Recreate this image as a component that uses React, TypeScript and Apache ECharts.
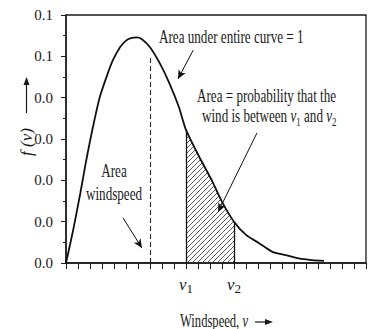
import React, { useEffect, useRef } from "react";
import * as echarts from "echarts";

// ---- data ----
const windspeed = [0, 0.6, 1.2, 1.6, 2.0, 2.4, 2.8, 3.4, 3.9, 4.5, 5.0, 5.4, 5.9, 6.3, 7.0, 7.8, 8.6, 9.4, 10, 11.1, 12.2, 13, 14, 15, 16.1, 17.2, 18.3, 19.4, 20.5, 21.5];
const density = [0, 0.008, 0.017, 0.0235, 0.0295, 0.035, 0.04, 0.0452, 0.049, 0.0522, 0.0538, 0.0544, 0.0546, 0.0542, 0.0522, 0.0484, 0.0436, 0.0378, 0.0322, 0.0257, 0.0197, 0.0148, 0.01, 0.0068, 0.0048, 0.0027, 0.0019, 0.0011, 0.0007, 0.0005];

const V1 = 10;
const V2 = 14;
const meanSpeed = 7;
const meanLineTop = 0.05;

const yTickValues = [0, 0.01, 0.02, 0.03, 0.04, 0.05, 0.06];
const yTickLabels = ["0.0", "0.0", "0.0", "0.0", "0.0", "0.1", "0.1"];
const xTickLabels: Record<number, string> = { 10: "{i|v}{s|1}", 14: "{i|v}{s|2}" };

// annotation arrows in data coordinates: [from, to]
const arrowWholeCurve = [[10.6, 0.0515], [9.33, 0.0445]];
const arrowBetween = [[15.92, 0.0315], [12.67, 0.0123]];
const arrowMean = [[4.75, 0.0109], [6.33, 0.0036]];

const FONT = "Liberation Serif";

export default function App() {
  const ref = useRef<HTMLDivElement>(null);
  useEffect(() => {
    const chart = echarts.init(ref.current!, null, { renderer: "svg" });

    const pts = windspeed.map((v, i) => [v, density[i]]);
    const hatchPts = pts.filter((p) => p[0] >= V1 && p[0] <= V2);
    const fAt = (v: number) => density[windspeed.indexOf(v)];

    const cv = document.createElement("canvas");
    cv.width = 5;
    cv.height = 5;
    const ctx = cv.getContext("2d")!;
    ctx.strokeStyle = "#333";
    ctx.lineWidth = 0.8;
    ctx.beginPath();
    ctx.moveTo(0, 5);
    ctx.lineTo(5, 0);
    ctx.moveTo(-1, 1);
    ctx.lineTo(1, -1);
    ctx.moveTo(4, 6);
    ctx.lineTo(6, 4);
    ctx.stroke();

    const arrowItem = (a: number[][]) => [
      { coord: a[0], symbol: "none" },
      { coord: a[1], symbol: "arrow", symbolSize: [6, 9] },
    ];

    const txt = (extra: any) => ({
      type: "text",
      scaleX: 0.69,
      ...extra,
      style: {
        fontFamily: FONT,
        fontSize: 19,
        fill: "#1a1a1a",
        verticalAlign: "middle",
        textVerticalAlign: "middle",
        ...extra.style,
      },
    });

    const subRich = {
      i: { fontFamily: FONT, fontSize: 19, fontStyle: "italic", lineHeight: 24, fill: "#1a1a1a" },
      n: { fontFamily: FONT, fontSize: 19, lineHeight: 24, fill: "#1a1a1a" },
      s: { fontFamily: FONT, fontSize: 13, lineHeight: 10, verticalAlign: "bottom", fill: "#1a1a1a" },
    };

    const option: any = {
      animation: false,
      textStyle: { fontFamily: FONT },
      grid: { left: 66, right: 5, top: 15, bottom: 66, show: true, borderColor: "#1a1a1a", borderWidth: 1.3, backgroundColor: "transparent" },
      xAxis: {
        type: "value",
        min: 0,
        max: 25,
        interval: 1,
        axisLine: { show: true, lineStyle: { color: "#1a1a1a", width: 1.5 } },
        axisTick: { show: true, inside: false, length: 6, lineStyle: { color: "#1a1a1a", width: 1 } },
        splitLine: { show: false },
        axisLabel: {
          show: true,
          margin: 10,
          interval: 0,
          formatter: (v: number) => xTickLabels[Math.round(v)] || "",
          rich: {
            i: { fontFamily: FONT, fontSize: 17, fontStyle: "italic", lineHeight: 22, color: "#1a1a1a" },
            s: { fontFamily: FONT, fontSize: 13, lineHeight: 10, verticalAlign: "bottom", color: "#1a1a1a" },
          },
        },
      },
      yAxis: {
        type: "value",
        min: 0,
        max: 0.06,
        interval: 0.01,
        axisLine: { show: true, lineStyle: { color: "#1a1a1a", width: 1.5 } },
        axisTick: { show: true, inside: false, length: 5, lineStyle: { color: "#1a1a1a", width: 1 } },
        minorTick: { show: true, splitNumber: 2, length: 3, lineStyle: { color: "#1a1a1a", width: 1 } },
        splitLine: { show: false },
        axisLabel: {
          margin: 13,
          color: "#1a1a1a",
          fontFamily: FONT,
          fontSize: 15,
          formatter: (v: number) => {
            const idx = yTickValues.findIndex((t) => Math.abs(t - v) < 1e-6);
            return idx >= 0 ? yTickLabels[idx] : "";
          },
        },
      },
      series: [
        {
          type: "line",
          data: hatchPts,
          symbol: "none",
          smooth: 0.2,
          silent: true,
          lineStyle: { width: 0 },
          areaStyle: { color: { image: cv, repeat: "repeat" }, opacity: 1 },
          z: 1,
        },
        {
          type: "line",
          data: pts,
          symbol: "none",
          smooth: 0.2,
          silent: true,
          lineStyle: { color: "#111", width: 1.8 },
          z: 3,
          markLine: {
            silent: true,
            symbol: ["none", "none"],
            label: { show: false },
            lineStyle: { color: "#111", width: 1, type: "solid" },
            data: [
              [
                { coord: [meanSpeed, 0], lineStyle: { type: [5, 3], width: 1.1, color: "#222" } },
                { coord: [meanSpeed, meanLineTop] },
              ],
              [{ coord: [V1, 0], lineStyle: { width: 1.3 } }, { coord: [V1, fAt(V1)] }],
              [{ coord: [V2, 0], lineStyle: { width: 1.3 } }, { coord: [V2, fAt(V2)] }],
              arrowItem(arrowWholeCurve),
              arrowItem(arrowBetween),
              arrowItem(arrowMean),
            ],
          },
        },
      ],
      graphic: [
        txt({ x: 159, y: 36.6, style: { text: "Area under entire curve = 1", align: "left", textAlign: "left" } }),
        txt({ x: 197, y: 95.6, style: { text: "Area = probability that the", align: "left", textAlign: "left" } }),
        txt({
          x: 202,
          y: 116,
          style: {
            text: "{n|wind is between }{i|v}{s|1}{n| and }{i|v}{s|2}",
            align: "left",
            textAlign: "left",
            rich: subRich,
          },
        }),
        txt({ x: 114, y: 170.6, style: { text: "Area", align: "center", textAlign: "center" } }),
        txt({ x: 114, y: 193.6, style: { text: "windspeed", align: "center", textAlign: "center" } }),
        txt({
          x: 180,
          y: 320.5,
          scaleX: 0.7,
          style: {
            text: "{n|Windspeed, }{i|v}",
            align: "left",
            textAlign: "left",
            rich: {
              n: { fontFamily: FONT, fontSize: 18, lineHeight: 18, fill: "#1a1a1a" },
              i: { fontFamily: FONT, fontSize: 18, lineHeight: 18, fontStyle: "italic", fill: "#1a1a1a" },
            },
          },
        }),
        { type: "line", shape: { x1: 255, y1: 322, x2: 267, y2: 322 }, style: { stroke: "#1a1a1a", lineWidth: 1.2 } },
        { type: "polygon", shape: { points: [[265, 319], [265, 325], [273, 322]] }, style: { fill: "#1a1a1a" } },
        {
          type: "group",
          x: 26.5,
          y: 119,
          rotation: Math.PI / 2,
          children: [
            {
              type: "text",
              x: -23,
              y: 0,
              style: {
                text: "f (v)",
                fontFamily: FONT,
                fontSize: 17,
                fontStyle: "italic",
                fill: "#1a1a1a",
                align: "center",
                textAlign: "center",
                verticalAlign: "middle",
                textVerticalAlign: "middle",
              },
            },
            { type: "line", shape: { x1: 6, y1: 0, x2: 35, y2: 0 }, style: { stroke: "#1a1a1a", lineWidth: 1.2 } },
            { type: "polygon", shape: { points: [[34, -3], [34, 3], [42, 0]] }, style: { fill: "#1a1a1a" } },
          ],
        },
      ],
    };

    chart.setOption(option);
    return () => chart.dispose();
  }, []);
  return <div ref={ref} style={{ position: "absolute", left: 0, top: 0, width: 371, height: 329 }} />;
}
